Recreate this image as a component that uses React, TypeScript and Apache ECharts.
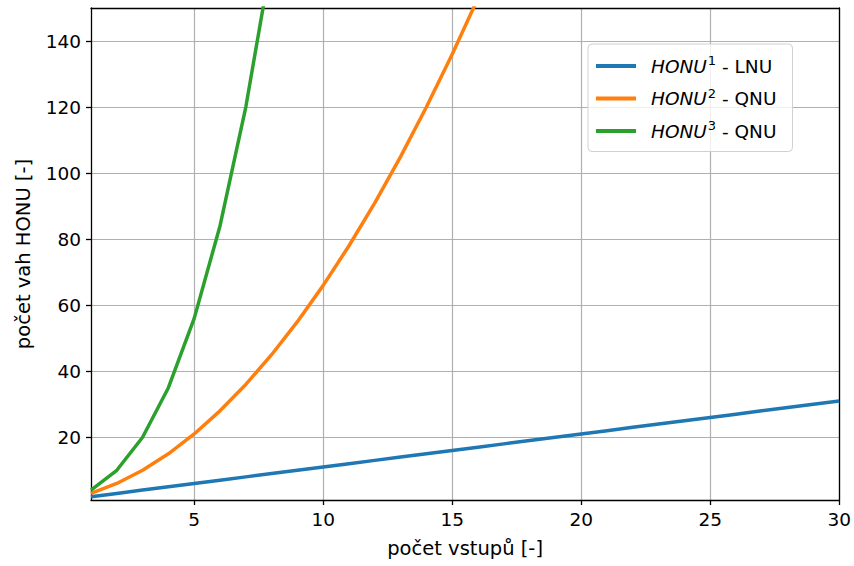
import React, { useEffect, useRef } from "react";
import * as echarts from "echarts";

const xInputs = [1, 2, 3, 4, 5, 6, 7, 8, 9, 10, 11, 12, 13, 14, 15, 16, 17, 18, 19, 20, 21, 22, 23, 24, 25, 26, 27, 28, 29, 30];
const lnuWeights = [2, 3, 4, 5, 6, 7, 8, 9, 10, 11, 12, 13, 14, 15, 16, 17, 18, 19, 20, 21, 22, 23, 24, 25, 26, 27, 28, 29, 30, 31];
const qnuWeights = [3, 6, 10, 15, 21, 28, 36, 45, 55, 66, 78, 91, 105, 120, 136, 153];
const cnuWeights = [4, 10, 20, 35, 56, 84, 120, 165];
const seriesNames = ["HONU^1 - LNU", "HONU^2 - QNU", "HONU^3 - QNU"];
const colors = ["#1f77b4", "#ff7f0e", "#2ca02c"];
const xTicks = [5, 10, 15, 20, 25, 30];
const yTicks = [20, 40, 60, 80, 100, 120, 140];
const xTitle = "počet vstupů [-]";
const yTitle = "počet vah HONU [-]";

const FONT = "DejaVu Sans";
const FS = 18.5;
const TFS = 19.5;

function pairs(ys: number[]) {
  return ys.map((y, i) => [xInputs[i], y]);
}

export default function App() {
  const ref = useRef<HTMLDivElement>(null);
  useEffect(() => {
    if (!ref.current) return;
    const chart = echarts.init(ref.current, undefined, { renderer: "svg" });
    const data = [lnuWeights, qnuWeights, cnuWeights];
    const option: any = {
      animation: false,
      backgroundColor: "#ffffff",
      textStyle: { fontFamily: FONT },
      grid: { left: 91, right: 12, top: 8, bottom: 66, containLabel: false },
      legend: {
        orient: "vertical",
        left: 588,
        top: 44,
        width: 207,
        padding: [10, 16, 11, 8],
        itemGap: 11,
        itemWidth: 40,
        itemHeight: 4,
        icon: "rect",
        backgroundColor: "rgba(255,255,255,0.8)",
        borderColor: "#d0d0d0",
        borderWidth: 1,
        borderRadius: 4,
        data: seriesNames,
        formatter: (name: string) => {
          const m = name.match(/^(\w+)\^(\d)(.*)$/);
          if (!m) return name;
          return `{i|${m[1]}}{s|${m[2]}}{n|${m[3]}}`;
        },
        textStyle: {
          fontFamily: FONT,
          fontSize: FS,
          color: "#000",
          padding: [0, 0, 0, 10],
          rich: {
            i: { fontFamily: FONT, fontSize: FS, fontStyle: "italic", color: "#000", lineHeight: 24 },
            s: { fontFamily: FONT, fontSize: 13, color: "#000", verticalAlign: "top", lineHeight: 14, padding: [0, 0, 0, 1] },
            n: { fontFamily: FONT, fontSize: FS, color: "#000", lineHeight: 24 },
          },
        },
      },
      xAxis: [
        {
          type: "value",
          min: 1,
          max: 30,
          name: xTitle,
          nameLocation: "middle",
          nameGap: 38,
          nameTextStyle: { fontFamily: FONT, fontSize: TFS, color: "#000" },
          axisLine: { show: true, onZero: false, lineStyle: { color: "#000", width: 1.3 } },
          axisTick: { show: true, length: 5, customValues: xTicks, lineStyle: { color: "#000", width: 1.3 } },
          axisLabel: { customValues: xTicks, margin: 10, fontFamily: FONT, fontSize: FS, color: "#000" },
          splitLine: { show: true, lineStyle: { color: "#b0b0b0", width: 1.2 } },
        },
        {
          type: "value",
          position: "top",
          min: 1,
          max: 30,
          axisLine: { show: true, onZero: false, lineStyle: { color: "#000", width: 1.3 } },
          axisTick: { show: false },
          axisLabel: { show: false },
          splitLine: { show: false },
        },
      ],
      yAxis: [
        {
          type: "value",
          min: 1,
          max: 150,
          name: yTitle,
          nameLocation: "middle",
          nameGap: 58,
          nameRotate: 90,
          nameTextStyle: { fontFamily: FONT, fontSize: TFS, color: "#000" },
          axisLine: { show: true, onZero: false, lineStyle: { color: "#000", width: 1.3 } },
          axisTick: { show: true, length: 5, customValues: yTicks, lineStyle: { color: "#000", width: 1.3 } },
          axisLabel: { customValues: yTicks, margin: 10, fontFamily: FONT, fontSize: FS, color: "#000" },
          splitLine: { show: true, lineStyle: { color: "#b0b0b0", width: 1.2 } },
        },
        {
          type: "value",
          position: "right",
          min: 1,
          max: 150,
          axisLine: { show: true, onZero: false, lineStyle: { color: "#000", width: 1.3 } },
          axisTick: { show: false },
          axisLabel: { show: false },
          splitLine: { show: false },
        },
      ],
      series: data.map((ys, i) => ({
        type: "line",
        name: seriesNames[i],
        data: pairs(ys),
        xAxisIndex: 0,
        yAxisIndex: 0,
        showSymbol: false,
        symbol: "none",
        clip: true,
        color: colors[i],
        lineStyle: { color: colors[i], width: 3.5 },
        z: 3,
      })),
    };
    chart.setOption(option);
    return () => chart.dispose();
  }, []);
  return <div ref={ref} style={{ width: 854, height: 566, position: "absolute", left: 0, top: 0 }} />;
}
